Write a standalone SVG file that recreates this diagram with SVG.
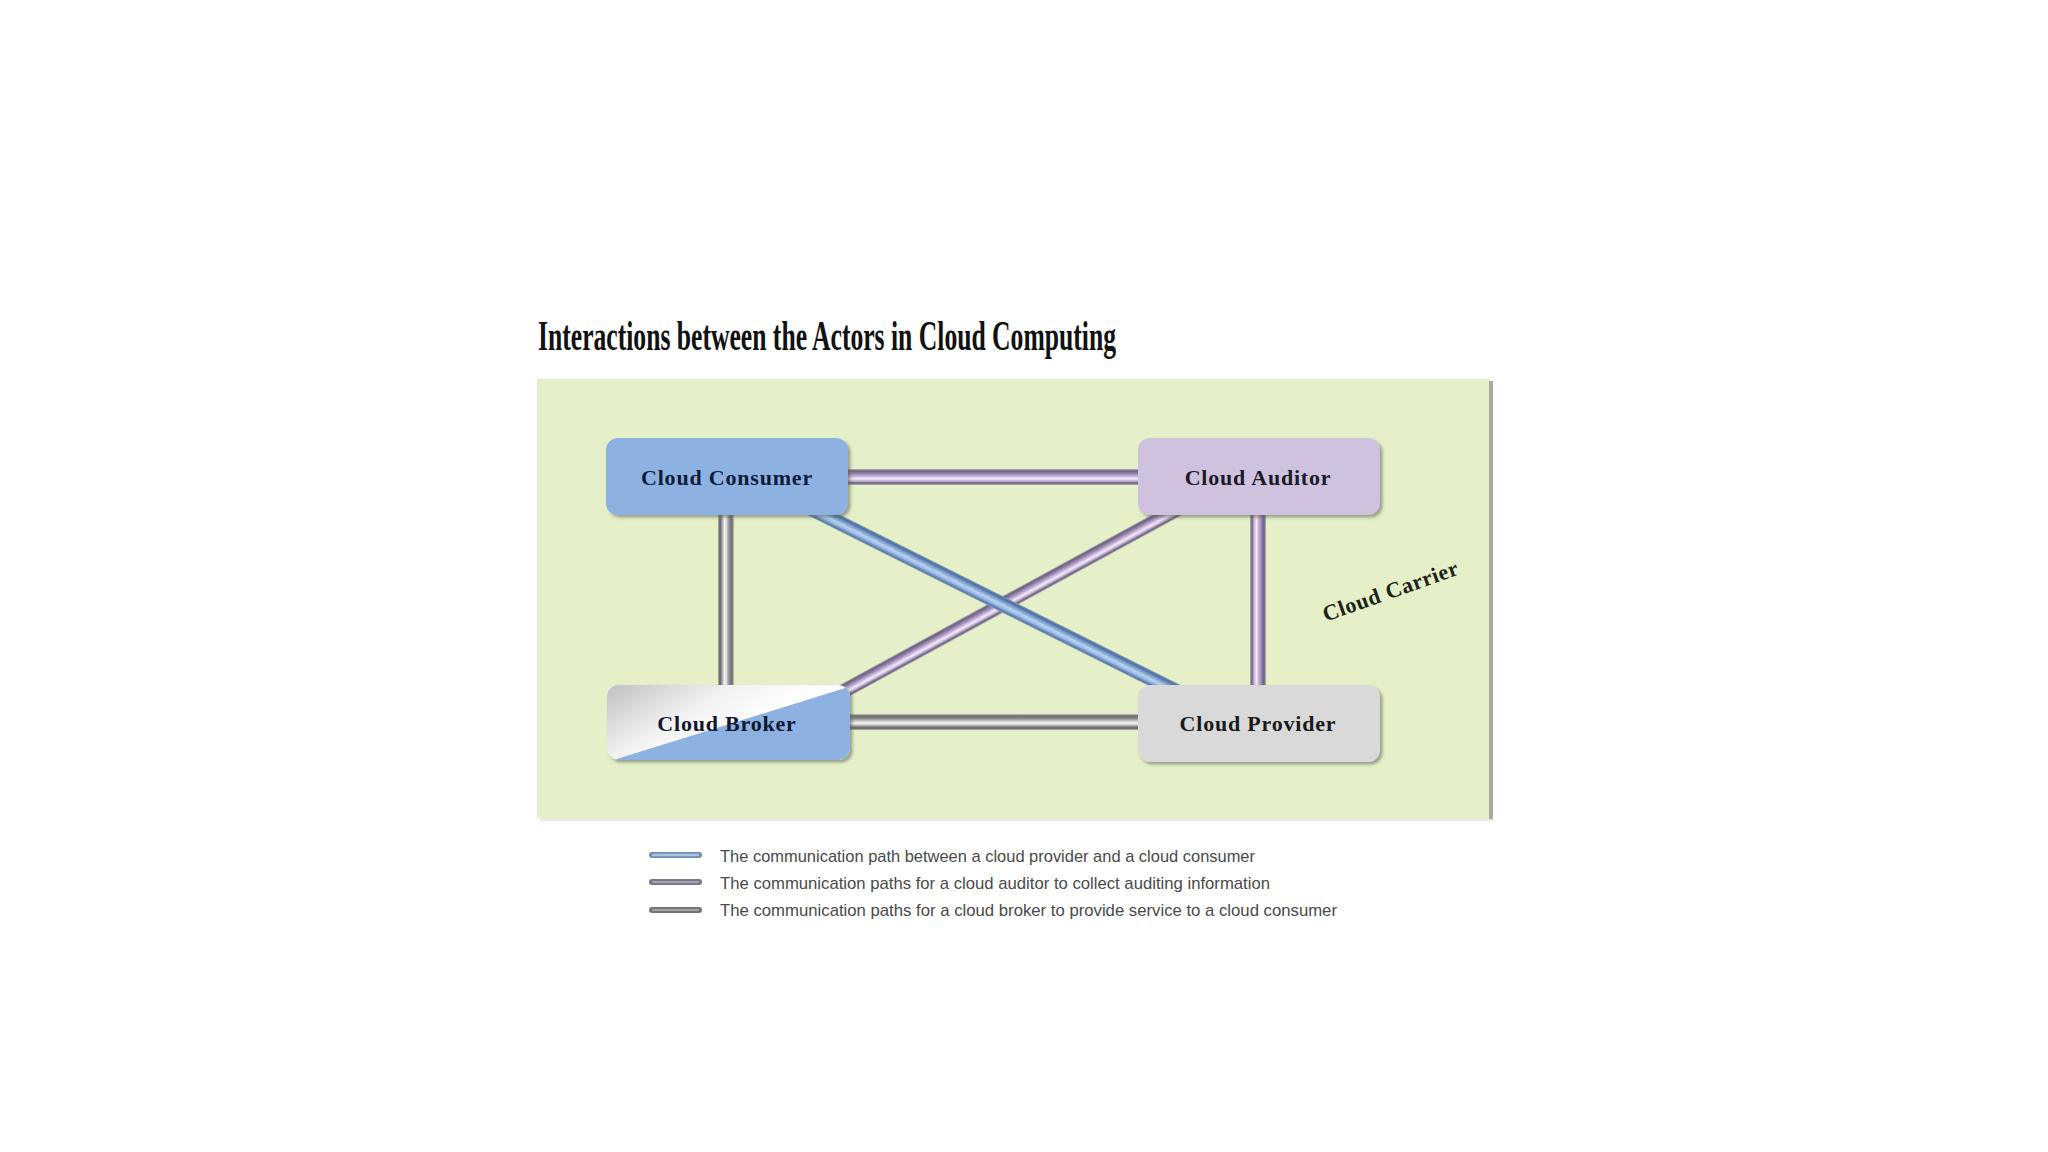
<svg xmlns="http://www.w3.org/2000/svg" width="2048" height="1152" viewBox="0 0 2048 1152">
  <style>
    .title { font-family: "Liberation Serif", "Times New Roman", serif; font-weight: bold; font-size: 42px; fill: #111; }
    .nodeText { font-family: "Liberation Serif", "Times New Roman", serif; font-weight: bold; font-size: 22px; letter-spacing: 0.8px; text-anchor: middle; }
    .carrier { font-family: "Liberation Serif", "Times New Roman", serif; font-weight: bold; font-size: 22px; letter-spacing: 0.6px; text-anchor: middle; fill: #1c2418; }
    .legendText { font-family: "Liberation Sans", Arial, sans-serif; font-size: 17px; fill: #4a4a4a; }
  </style>
  <defs>
    <linearGradient id="pipeGray" x1="0" y1="0" x2="0" y2="1">
      <stop offset="0" stop-color="#c4c8bc"/>
      <stop offset="0.12" stop-color="#6c6c6c"/>
      <stop offset="0.3" stop-color="#8e8e8e"/>
      <stop offset="0.47" stop-color="#d8d8d8"/>
      <stop offset="0.6" stop-color="#f4f4f4"/>
      <stop offset="0.75" stop-color="#a0a0a0"/>
      <stop offset="0.88" stop-color="#5c5c5c"/>
      <stop offset="1" stop-color="#b8bcb0"/>
    </linearGradient>
    <linearGradient id="pipePurple" x1="0" y1="0" x2="0" y2="1">
      <stop offset="0" stop-color="#b8b4c0"/>
      <stop offset="0.12" stop-color="#6a6078"/>
      <stop offset="0.3" stop-color="#9888b0"/>
      <stop offset="0.47" stop-color="#cbb8e0"/>
      <stop offset="0.6" stop-color="#f4ecfa"/>
      <stop offset="0.75" stop-color="#c0b0d4"/>
      <stop offset="0.88" stop-color="#6a6078"/>
      <stop offset="1" stop-color="#b8b4c0"/>
    </linearGradient>
    <linearGradient id="pipeBlue" x1="0" y1="0" x2="0" y2="1">
      <stop offset="0" stop-color="#7f98b8"/>
      <stop offset="0.15" stop-color="#4f6f9f"/>
      <stop offset="0.35" stop-color="#7fa3d3"/>
      <stop offset="0.55" stop-color="#b8d4f2"/>
      <stop offset="0.75" stop-color="#8fb0dc"/>
      <stop offset="0.9" stop-color="#5878a8"/>
      <stop offset="1" stop-color="#8aa0b8"/>
    </linearGradient>
    <linearGradient id="brokerGray" gradientUnits="userSpaceOnUse" x1="640" y1="660" x2="700" y2="760">
      <stop offset="0" stop-color="#bdbdbd"/>
      <stop offset="0.6" stop-color="#f2f2f2"/>
      <stop offset="1" stop-color="#ffffff"/>
    </linearGradient>
    <clipPath id="brokerClip">
      <rect x="607" y="685" width="243" height="75" rx="12"/>
    </clipPath>
    <filter id="shadow" x="-10%" y="-10%" width="125%" height="130%">
      <feDropShadow dx="2.5" dy="2.5" stdDeviation="1.5" flood-color="#5a6050" flood-opacity="0.55"/>
    </filter>
  </defs>

  <rect width="2048" height="1152" fill="#ffffff"/>

  <text class="title" x="538" y="350" textLength="578" lengthAdjust="spacingAndGlyphs">Interactions between the Actors in Cloud Computing</text>

  <!-- Cloud Carrier background -->
  <g id="cloud-carrier">
    <rect x="540" y="382" width="953" height="439" fill="#e8ece0"/>
    <rect x="537" y="379" width="953" height="439" fill="#e5f0c9"/>
    <rect x="1489" y="381" width="4" height="438" fill="#a8aca0"/>
    <text class="carrier" transform="translate(1393,598) rotate(-19.5)">Cloud Carrier</text>
  </g>

  <!-- Connectors -->
  <g id="connectors">
    <rect x="0" y="-8" width="532" height="16" fill="url(#pipePurple)" transform="translate(727,477)"/>
    <rect x="0" y="-8" width="531" height="16" fill="url(#pipeGray)" transform="translate(728,722)"/>
    <rect x="0" y="-8" width="245" height="16" fill="url(#pipeGray)" transform="translate(726,477) rotate(90)"/>
    <rect x="0" y="-8" width="245" height="16" fill="url(#pipePurple)" transform="translate(1258,477) rotate(90)"/>
    <rect x="0" y="-7.5" width="456" height="15" fill="url(#pipePurple)" transform="translate(800,715) rotate(-28.6)"/>
    <rect x="0" y="-7.5" width="570" height="15" fill="url(#pipeBlue)" transform="translate(740,473) rotate(26.57)"/>
  </g>

  <!-- Nodes -->
  <g id="cloud-consumer">
    <rect x="606" y="438" width="242" height="77" rx="12" fill="#8db2e2" filter="url(#shadow)"/>
    <text class="nodeText" x="727" y="485" fill="#0e1c3c">Cloud Consumer</text>
  </g>

  <g id="cloud-auditor">
    <rect x="1138" y="438" width="242" height="77" rx="12" fill="#cec2de" filter="url(#shadow)"/>
    <text class="nodeText" x="1258" y="485" fill="#1c1a28">Cloud Auditor</text>
  </g>

  <g id="cloud-broker">
    <g filter="url(#shadow)">
      <g clip-path="url(#brokerClip)">
        <rect x="607" y="685" width="243" height="75" fill="url(#brokerGray)"/>
        <polygon points="607,762 852,686 852,762" fill="#8db2e2"/>
      </g>
    </g>
    <text class="nodeText" x="727" y="731" fill="#101830">Cloud Broker</text>
  </g>

  <g id="cloud-provider">
    <rect x="1138" y="685" width="242" height="77" rx="12" fill="#d9d9d9" filter="url(#shadow)"/>
    <text class="nodeText" x="1258" y="731" fill="#1a1a1a">Cloud Provider</text>
  </g>

  <!-- Legend -->
  <g id="legend">
    <line x1="652" y1="855" x2="699" y2="855" stroke="#6f8cb0" stroke-width="6" stroke-linecap="round"/>
    <line x1="653" y1="855" x2="698" y2="855" stroke="#a9c4e4" stroke-width="2.5" stroke-linecap="round"/>
    <line x1="652" y1="882" x2="699" y2="882" stroke="#7a7688" stroke-width="6" stroke-linecap="round"/>
    <line x1="653" y1="882" x2="698" y2="882" stroke="#a8a2b8" stroke-width="2" stroke-linecap="round"/>
    <line x1="652" y1="910" x2="699" y2="910" stroke="#747474" stroke-width="6" stroke-linecap="round"/>
    <line x1="653" y1="910" x2="698" y2="910" stroke="#a4a4a4" stroke-width="2" stroke-linecap="round"/>
    <text class="legendText" x="720" y="862" textLength="535" lengthAdjust="spacingAndGlyphs">The communication path between a cloud provider and a cloud consumer</text>
    <text class="legendText" x="720" y="889" textLength="550" lengthAdjust="spacingAndGlyphs">The communication paths for a cloud auditor to collect auditing information</text>
    <text class="legendText" x="720" y="916" textLength="617" lengthAdjust="spacingAndGlyphs">The communication paths for a cloud broker to provide service to a cloud consumer</text>
  </g>
</svg>
